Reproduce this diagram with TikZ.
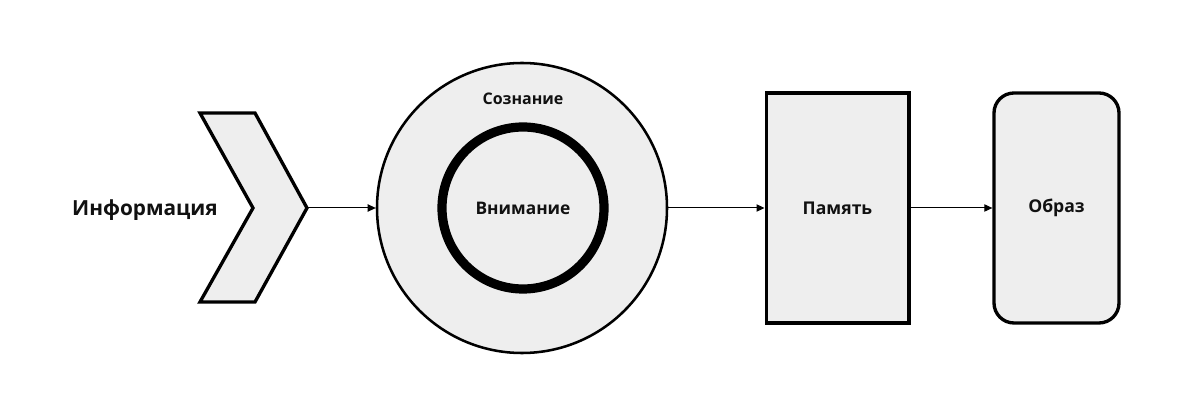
\documentclass[tikz,border=0pt]{standalone}
\usepackage{fontspec}
\setmainfont{Open Sans}
\usepackage{xcolor}
\definecolor{boxfill}{HTML}{EEEEEE}
\definecolor{textdark}{HTML}{111111}
\usepackage{tikz}
\usetikzlibrary{shapes,arrows.meta,positioning,calc}

\begin{document}
\begin{tikzpicture}[x=0.75pt, y=-0.75pt,
    blockbox/.style={rectangle, draw=black, fill=boxfill, text=textdark, minimum width=107pt, minimum height=172.5pt, font=\bfseries\fontsize{13.2}{15}\selectfont, line width=2.5pt},
    imagebox/.style={blockbox, rounded corners=15pt, minimum width=93.75pt},
    ringout/.style={circle, draw=black, fill=boxfill, minimum size=217.5pt, line width=1.9pt},
    ringin/.style={circle, draw=black, minimum size=121.5pt, line width=6.9pt, text=textdark, font=\bfseries\fontsize{13}{15}\selectfont},
    flow/.style={-{Triangle[length=6pt,width=5.5pt]}, black, line width=0.75pt},
  ]
    \useasboundingbox (0,0) rectangle (1200,413);

    % input chevron
    \draw[fill=boxfill, line width=2.5pt, line join=miter]
      (200,113) -- (255,113) -- (307,208) -- (255,302) -- (200,302) -- (253,208) -- cycle;
    \coordinate (tip) at (307,208);
    \node[font=\bfseries\fontsize{15.6}{18}\selectfont, text=textdark] (info) at (145,210) {Информация};

    % consciousness and attention
    \node[ringout] (soznanie) at (522,208) {};
    \node[ringin] (vnimanie) at (523,208) {Внимание};
    \node[font=\bfseries\fontsize{12}{14}\selectfont, text=textdark] (soznlabel) at (523,99) {Сознание};

    \node[blockbox] (pamyat) at (837.5,208) {Память};
    \node[imagebox] (obraz) at (1056.5,208) {Образ};

    \draw[flow] (tip) -- (soznanie.west);
    \draw[flow] (soznanie.east) -- (pamyat.west);
    \draw[flow] (pamyat.east) -- (obraz.west);
  \end{tikzpicture}
\end{document}
